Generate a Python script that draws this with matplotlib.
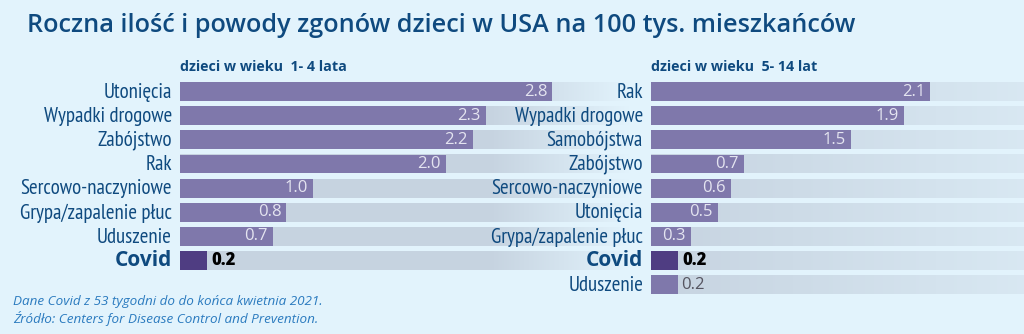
import matplotlib
matplotlib.use('Agg')
import matplotlib.pyplot as plt
import numpy as np

causes_1_4 = ['Utonięcia', 'Wypadki drogowe', 'Zabójstwo', 'Rak', 'Sercowo-naczyniowe',
              'Grypa/zapalenie płuc', 'Uduszenie', 'Covid']
rates_1_4 = [2.8, 2.3, 2.2, 2.0, 1.0, 0.8, 0.7, 0.2]

causes_5_14 = ['Rak', 'Wypadki drogowe', 'Samobójstwa', 'Zabójstwo', 'Sercowo-naczyniowe',
               'Utonięcia', 'Grypa/zapalenie płuc', 'Covid', 'Uduszenie']
rates_5_14 = [2.1, 1.9, 1.5, 0.7, 0.6, 0.5, 0.3, 0.2, 0.2]

W, H = 1024, 334
BG = '#e2f3fc'
BAR = '#7f78ab'
COVID = '#4f3d82'
NAVY = '#0f4a7f'
TRACK = np.array([0.78, 0.83, 0.88])
PX = 133.0  # pixels per unit
ROW0, PITCH = 91.5, 24.15
NARROW = ['PT Sans Narrow', 'DejaVu Sans']

fig = plt.figure(figsize=(W / 100, H / 100), dpi=100, facecolor=BG)


def panel(x0, x1, causes, rates, subtitle, fade_from, fade_to, alpha_end):
    n = len(causes)
    top = ROW0 - PITCH / 2
    bottom = ROW0 + PITCH * (n - 1) + PITCH / 2
    ax = fig.add_axes([x0 / W, 1 - bottom / H, (x1 - x0) / W, (bottom - top) / H])
    ax.set_facecolor('none')
    xmax = (x1 - x0) / PX
    ax.set_xlim(0, xmax)
    ax.set_ylim(n - 0.5, -0.5)
    ax.axis('off')

    # faded background track
    xs = np.linspace(0, xmax, 300)
    alpha = np.interp(xs, [fade_from / PX, fade_to / PX], [1.0, alpha_end])
    grad = np.zeros((1, len(xs), 4))
    grad[0, :, :3] = TRACK
    grad[0, :, 3] = alpha
    for i in range(n):
        ax.imshow(grad, extent=(0, xmax, i + 0.39, i - 0.39), aspect='auto',
                  interpolation='bilinear', zorder=1)

    for i, (c, v) in enumerate(zip(causes, rates)):
        covid = c == 'Covid'
        ax.barh(i, v, height=0.78, color=COVID if covid else BAR, zorder=2)
        if covid:
            ax.text(-8 / PX, i, c, ha='right', va='center', color=NAVY,
                    fontsize=15, fontweight='bold', family='Open Sans', zorder=3)
            ax.text(v + 5 / PX, i, f'{v:.1f}', ha='left', va='center', color='black',
                    fontsize=12, fontweight='heavy', family='Open Sans', zorder=3)
        else:
            ax.text(-8 / PX, i + 0.03, c, ha='right', va='center', color=NAVY,
                    fontsize=15, family=NARROW, zorder=3)
            if v >= 0.3:
                ax.text(v - 5 / PX, i, f'{v:.1f}', ha='right', va='center', color='#e4e4f0',
                        fontsize=12, family='Open Sans', zorder=3)
            else:
                ax.text(v + 4 / PX, i, f'{v:.1f}', ha='left', va='center', color='#555560',
                        fontsize=12, family='Open Sans', zorder=3)

    fig.text(x0 / W, 1 - 67 / H, subtitle, ha='left', va='center', color=NAVY,
             fontsize=10.3, fontweight='bold', family='Open Sans')
    return ax


panel(180, 640, causes_1_4, rates_1_4, 'dzieci w wieku  1- 4 lata', 310, 450, 0.0)
panel(651, 1024, causes_5_14, rates_5_14, 'dzieci w wieku  5- 14 lat', 0, 373, 0.35)

fig.text(27 / W, 1 - 26 / H, 'Roczna ilość i powody zgonów dzieci w USA na 100 tys. mieszkańców',
         ha='left', va='center', color=NAVY, fontsize=18.2, fontweight='semibold',
         family='Open Sans')

fig.text(13 / W, 1 - 302 / H, 'Dane Covid z 53 tygodni do do końca kwietnia 2021.',
         ha='left', va='center', color='#2b7bbf', fontsize=9.7, style='italic', family='Open Sans')
fig.text(13 / W, 1 - 318 / H, 'Źródło: Centers for Disease Control and Prevention.',
         ha='left', va='center', color='#2b7bbf', fontsize=9.7, style='italic', family='Open Sans')

fig.savefig('out.png', dpi=100, facecolor=BG)
